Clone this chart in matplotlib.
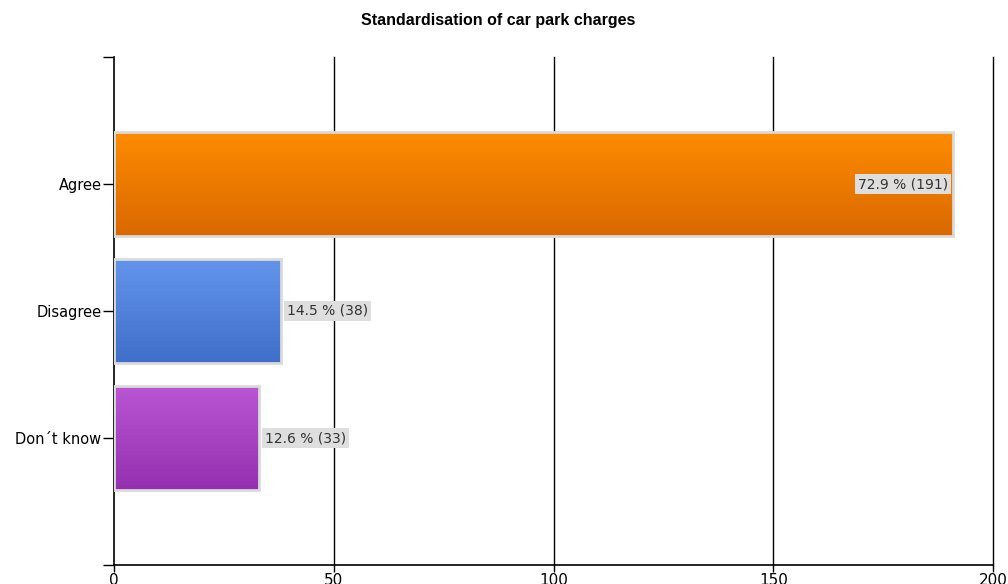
import matplotlib.pyplot as plt
import numpy as np
from matplotlib import font_manager
from matplotlib.colors import LinearSegmentedColormap

# ===== DONNEES ===== #
categories = ["Agree", "Disagree", "Don\u00b4t know"]
counts = [191, 38, 33]
percents = [72.9, 14.5, 12.6]
colors_top = ["#ff8c00", "#6495ed", "#ba55d3"]
colors_bottom = ["#d96800", "#3f6fc8", "#9530b0"]
xticks = [0, 50, 100, 150, 200]

names = {f.name for f in font_manager.fontManager.ttflist}
title_font = "Liberation Sans Narrow" if "Liberation Sans Narrow" in names else "Liberation Sans"
plt.rcParams['font.family'] = ['DejaVu Sans']

fig = plt.figure(figsize=(10.08, 5.84), dpi=100)
ax = fig.add_axes([114 / 1008, 19 / 584, (993 - 114) / 1008, (565 - 57) / 584])

y = np.arange(len(categories))
bars = ax.barh(y, counts, height=0.82, color="none", edgecolor="#dadada", linewidth=2, zorder=3)

# degrade vertical dans chaque barre
grad = np.linspace(0, 1, 256).reshape(-1, 1)
for b, c1, c2 in zip(bars, colors_top, colors_bottom):
    cmap = LinearSegmentedColormap.from_list("g", [c1, c2])
    x0, y0 = b.get_x(), b.get_y()
    w, h = b.get_width(), b.get_height()
    im = ax.imshow(grad, cmap=cmap, aspect="auto", extent=(x0, x0 + w, y0 + h, y0),
                   origin="upper", zorder=2)
    im.set_clip_path(b)

ax.set_xlim(0, 200)
ax.set_ylim(3, -1)

# etiquettes des valeurs
for i, (n, p) in enumerate(zip(counts, percents)):
    txt = "{:.1f} % ({})".format(p, n)
    box = dict(boxstyle="square,pad=0.22", fc="#dedede", ec="none")
    if n > 100:
        ax.text(n - 1.2, i, txt, ha="right", va="center", fontsize=10, color="#333333",
                zorder=5, bbox=box)
    else:
        ax.text(n + 1.4, i, txt, ha="left", va="center", fontsize=10, color="#333333",
                zorder=5, bbox=box)

ax.set_yticks([-1, 0, 1, 2, 3])
ax.set_yticklabels([""] + categories + [""], fontsize=10.5)
ax.set_xticks(xticks)
ax.set_xticklabels([str(t) for t in xticks], fontsize=11)
ax.tick_params(axis="y", length=8, width=1, color="black", pad=1)
ax.tick_params(axis="x", length=5, width=1, color="black", pad=1)

for t in xticks[1:]:
    ax.axvline(t, color="black", lw=1, zorder=1, clip_on=False)

ax.spines["top"].set_visible(False)
ax.spines["right"].set_visible(False)
ax.spines["left"].set_linewidth(1.2)
ax.spines["bottom"].set_linewidth(1.2)

fig.text(0.4945, 1 - 20 / 584, "Standardisation of car park charges", ha="center", va="center",
         fontsize=11.5, fontweight="bold", family=[title_font, "DejaVu Sans"])

fig.savefig("out.png", dpi=100)
